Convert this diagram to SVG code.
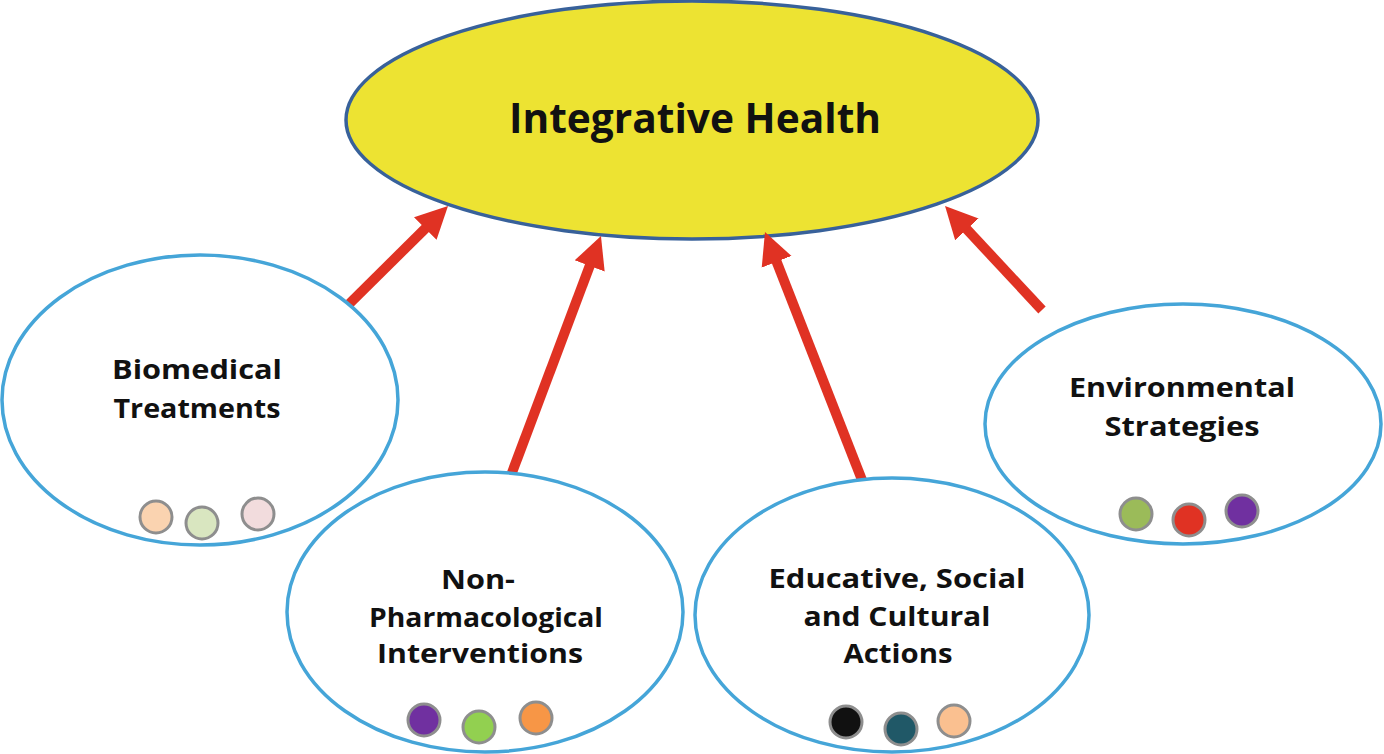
<svg xmlns="http://www.w3.org/2000/svg" width="1384" height="754" viewBox="0 0 1384 754">
<style>
.main{fill:#EDE332;stroke:#38619A;stroke-width:3.5}
.sub{fill:#FFFFFF;stroke:#45A5D8;stroke-width:3.5}
.dot{stroke:#8E8E8E;stroke-width:3}
.arrow{stroke:#E03223;stroke-width:10;fill:none}
text{font-family:"Open Sans","Liberation Sans",sans-serif;font-weight:bold;fill:#111111;text-anchor:middle}
.t1{font-size:42px}
.t2{font-size:27px}
</style>
<defs>
<marker id="head" markerUnits="userSpaceOnUse" markerWidth="34" markerHeight="34" viewBox="0 -17 34 34" refX="2" refY="0" orient="auto">
<path d="M0,-16 L32,0 L0,16 z" fill="#E03223"/>
</marker>
</defs>
<rect width="1384" height="754" fill="#FFFFFF"/>
<g id="integrative-health">
<ellipse class="main" cx="692" cy="120" rx="346" ry="119"/>
<text class="t1" x="695" y="133" textLength="372" lengthAdjust="spacingAndGlyphs">Integrative Health</text>
</g>
<g id="connectors">
<line class="arrow" x1="340" y1="313" x2="426.7" y2="227.1" marker-end="url(#head)"/>
<line class="arrow" x1="510" y1="478" x2="590.4" y2="264.1" marker-end="url(#head)"/>
<line class="arrow" x1="862" y1="480" x2="775.9" y2="259.9" marker-end="url(#head)"/>
<line class="arrow" x1="1042" y1="310" x2="965.5" y2="227.9" marker-end="url(#head)"/>
</g>
<g id="biomedical">
<ellipse class="sub" cx="200" cy="400" rx="198" ry="145"/>
<text class="t2" x="197" y="379" textLength="170" lengthAdjust="spacingAndGlyphs">Biomedical</text>
<text class="t2" x="197" y="418" textLength="167" lengthAdjust="spacingAndGlyphs">Treatments</text>
<circle class="dot" cx="156" cy="517" r="16" fill="#FAD3B0"/>
<circle class="dot" cx="202" cy="523" r="16" fill="#D9E6C0"/>
<circle class="dot" cx="258" cy="514" r="16" fill="#F2DCDD"/>
</g>
<g id="non-pharmacological">
<ellipse class="sub" cx="485" cy="612" rx="198" ry="140"/>
<text class="t2" x="478" y="589" textLength="74" lengthAdjust="spacingAndGlyphs">Non-</text>
<text class="t2" x="486" y="627" textLength="234" lengthAdjust="spacingAndGlyphs">Pharmacological</text>
<text class="t2" x="480" y="663" textLength="206" lengthAdjust="spacingAndGlyphs">Interventions</text>
<circle class="dot" cx="424" cy="720" r="16" fill="#7030A0"/>
<circle class="dot" cx="479" cy="727" r="16" fill="#92D050"/>
<circle class="dot" cx="536" cy="718" r="16" fill="#F79646"/>
</g>
<g id="educative">
<ellipse class="sub" cx="892" cy="615" rx="197" ry="137"/>
<text class="t2" x="897" y="588" textLength="257" lengthAdjust="spacingAndGlyphs">Educative, Social</text>
<text class="t2" x="897" y="626" textLength="187" lengthAdjust="spacingAndGlyphs">and Cultural</text>
<text class="t2" x="898" y="663" textLength="109" lengthAdjust="spacingAndGlyphs">Actions</text>
<circle class="dot" cx="846" cy="722" r="16" fill="#111111"/>
<circle class="dot" cx="901" cy="729" r="16" fill="#205867"/>
<circle class="dot" cx="954" cy="721" r="16" fill="#FAC090"/>
</g>
<g id="environmental">
<ellipse class="sub" cx="1183" cy="424" rx="198" ry="120"/>
<text class="t2" x="1182" y="397" textLength="226" lengthAdjust="spacingAndGlyphs">Environmental</text>
<text class="t2" x="1182" y="436" textLength="155" lengthAdjust="spacingAndGlyphs">Strategies</text>
<circle class="dot" cx="1136" cy="514" r="16" fill="#9BBB59"/>
<circle class="dot" cx="1189" cy="520" r="16" fill="#E03223"/>
<circle class="dot" cx="1242" cy="511" r="16" fill="#7030A0"/>
</g>
</svg>
